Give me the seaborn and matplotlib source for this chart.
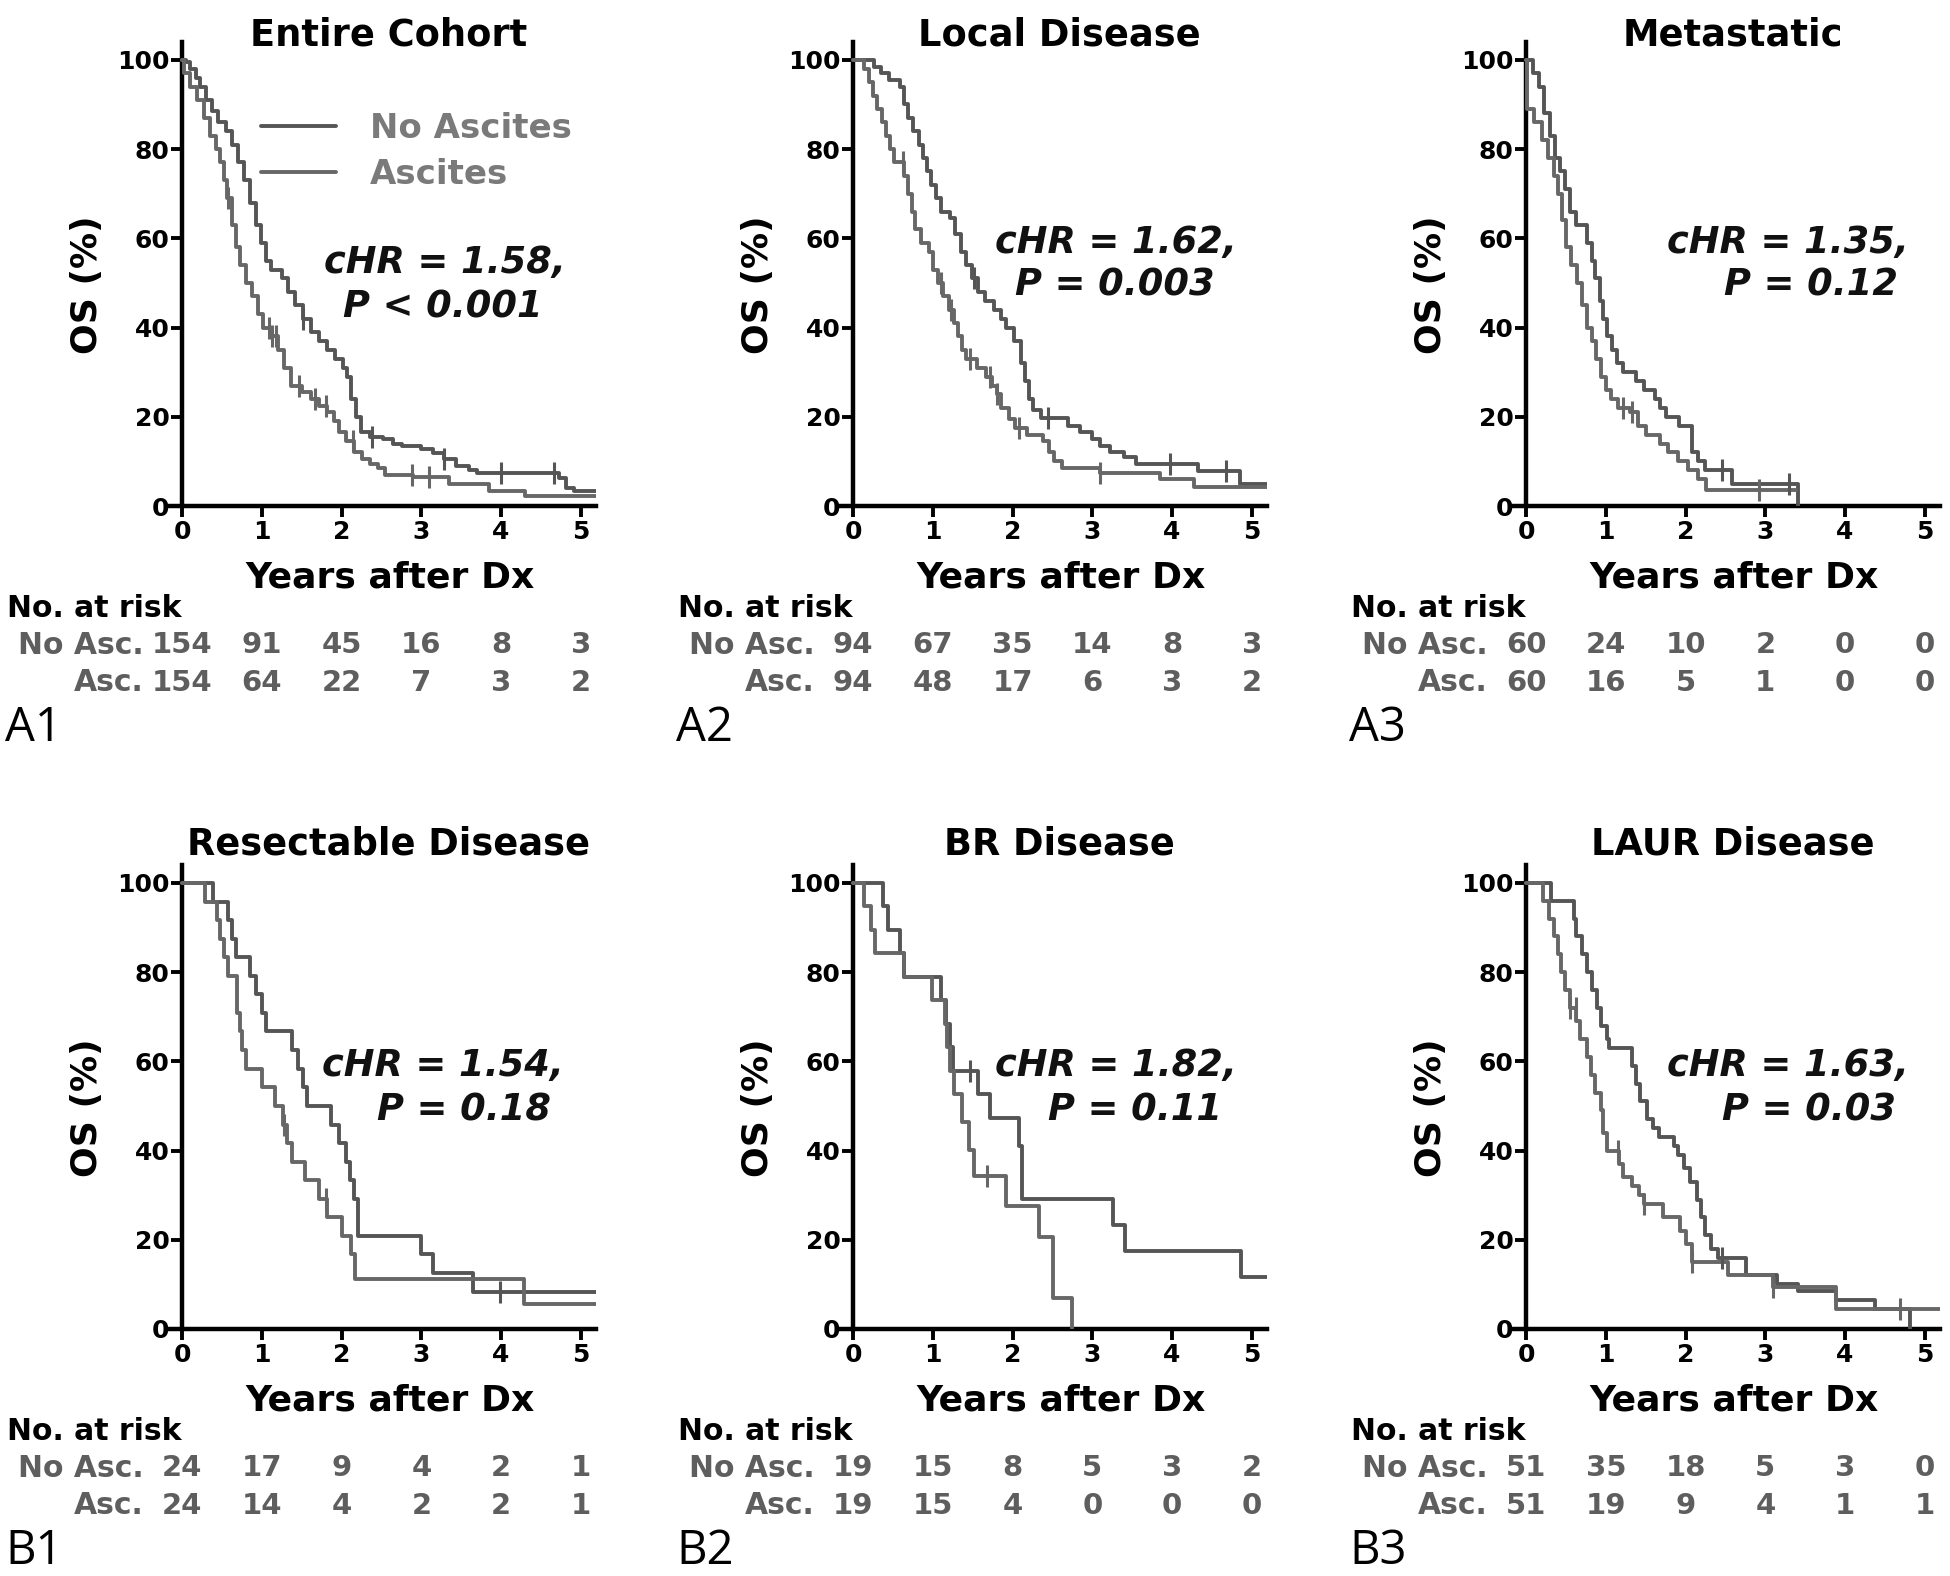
import numpy as np
import pandas as pd
import matplotlib
matplotlib.use("Agg")
import matplotlib.pyplot as plt
import matplotlib.transforms as mtransforms
from matplotlib.lines import Line2D
import seaborn as sns

# ---------------- data ----------------
titles = ["Entire Cohort", "Local Disease", "Metastatic",
          "Resectable Disease", "BR Disease", "LAUR Disease"]
panel_labels = ["A1", "A2", "A3", "B1", "B2", "B3"]
hr_texts = ["cHR = 1.58,", "cHR = 1.62,", "cHR = 1.35,",
            "cHR = 1.54,", "cHR = 1.82,", "cHR = 1.63,"]
p_texts = ["P < 0.001", "P = 0.003", "P = 0.12",
           "P = 0.18", "P = 0.11", "P = 0.03"]
group_names = ["No Ascites", "Ascites"]
risk_row_labels = ["No Asc.", "Asc."]
risk_times = [0, 1, 2, 3, 4, 5]

# Kaplan-Meier curves: step start times (years) and survival (%)
a1_no_t = [0, 0.05, 0.10, 0.17, 0.22, 0.30, 0.37, 0.45, 0.55, 0.62, 0.70, 0.78, 0.85, 0.92, 0.99,
           1.05, 1.12, 1.25, 1.33, 1.42, 1.52, 1.62, 1.72, 1.82, 1.92, 2.02, 2.07, 2.12, 2.18,
           2.24, 2.35, 2.52, 2.65, 2.76, 3.00, 3.15, 3.28, 3.43, 3.60, 3.70, 4.73, 4.82, 4.92]
a1_no_s = [100, 99.5, 98, 96, 94, 91, 88.5, 86, 84, 81, 77, 73, 68, 63, 59,
           55, 53, 51, 48, 45, 42, 39, 37, 35, 33, 31, 29, 24, 20,
           16.5, 15.5, 15, 14, 13.4, 12.8, 11.8, 10.5, 9, 8, 7.5, 6.2, 4, 3.3]
a1_no_end = 5.19
a1_no_cens = [1.52, 2.38, 3.29, 4.0, 4.66]
a1_as_t = [0, 0.02, 0.10, 0.18, 0.27, 0.35, 0.42, 0.47, 0.52, 0.56, 0.62, 0.67, 0.72, 0.80, 0.88,
           0.95, 1.02, 1.12, 1.20, 1.28, 1.37, 1.50, 1.62, 1.72, 1.82, 1.90, 1.97, 2.05, 2.15,
           2.25, 2.35, 2.45, 2.55, 2.90, 3.35, 3.85, 4.30]
a1_as_s = [100, 97, 94, 91, 87, 83, 80, 77, 73, 69, 63, 58, 54, 50, 47,
           43, 40, 38, 35, 31, 27, 25.5, 24, 22.5, 21, 19, 16.5, 14.5, 12,
           10.5, 9.5, 8.5, 7, 6.5, 5, 3.4, 2.3]
a1_as_end = 5.19
a1_as_cens = [0.58, 1.09, 1.13, 1.18, 1.47, 1.66, 1.80, 2.14, 2.88, 3.10]

a2_no_t = [0, 0.26, 0.35, 0.45, 0.59, 0.64, 0.69, 0.75, 0.82, 0.87, 0.92, 0.98, 1.04, 1.10, 1.22,
           1.28, 1.35, 1.42, 1.49, 1.56, 1.65, 1.77, 1.85, 1.92, 2.02, 2.10, 2.15, 2.20, 2.25,
           2.36, 2.69, 2.85, 3.00, 3.10, 3.22, 3.40, 3.55, 4.33, 4.85]
a2_no_s = [100, 98.5, 97, 95.5, 94, 90, 87, 84, 81, 78, 75, 72, 69, 66, 64.5,
           61, 57, 54, 51, 48, 46, 44, 42, 40, 37, 32, 28, 24, 21.5,
           19.8, 18, 16.5, 15, 13.5, 12, 11, 9.4, 7.8, 5]
a2_no_end = 5.19
a2_no_cens = [1.51, 2.44, 3.97, 4.67]
a2_as_t = [0, 0.13, 0.20, 0.25, 0.30, 0.36, 0.41, 0.46, 0.51, 0.64, 0.69, 0.74, 0.78, 0.85, 0.95,
           1.00, 1.06, 1.13, 1.20, 1.26, 1.31, 1.36, 1.42, 1.55, 1.66, 1.74, 1.80, 1.86, 1.95,
           2.03, 2.18, 2.38, 2.45, 2.52, 2.62, 3.10, 3.85, 4.28]
a2_as_s = [100, 98, 95, 92, 89, 86, 83, 80, 77, 74, 70, 66, 62, 59, 57,
           53, 50, 47, 44, 41, 38, 35, 33, 31, 29, 27, 25, 22, 19.5,
           17.5, 16, 14.5, 12, 10, 8.5, 7.5, 6, 4.2]
a2_as_end = 5.19
a2_as_cens = [0.62, 1.10, 1.23, 1.46, 1.72, 1.80, 2.08, 3.10]

a3_no_t = [0, 0.08, 0.16, 0.23, 0.30, 0.36, 0.42, 0.49, 0.55, 0.63, 0.76, 0.82, 0.86, 0.92, 0.96,
           1.02, 1.08, 1.14, 1.22, 1.38, 1.48, 1.61, 1.68, 1.75, 1.92, 2.08, 2.16, 2.24, 2.58, 3.41]
a3_no_s = [100, 97, 94, 88, 83, 78, 75, 71, 66, 63, 59, 55, 51, 46, 42,
           38, 35, 32, 30, 28, 26, 24, 22, 20, 18, 12, 10, 8, 5, 0]
a3_no_end = 3.41
a3_no_cens = [2.45, 3.30]
a3_as_t = [0, 0.01, 0.10, 0.20, 0.28, 0.35, 0.40, 0.45, 0.50, 0.56, 0.64, 0.70, 0.76, 0.82, 0.88,
           0.94, 1.00, 1.06, 1.15, 1.30, 1.40, 1.50, 1.68, 1.78, 1.90, 2.03, 2.15, 2.26]
a3_as_s = [100, 89, 86, 82, 78, 74, 70, 64, 58, 54, 50, 45, 40, 37, 33,
           29, 26, 24, 22, 21, 18, 16, 14, 12, 10, 8, 6, 3.5]
a3_as_end = 3.38
a3_as_cens = [1.22, 1.33, 2.92]

b1_no_t = [0, 0.39, 0.57, 0.62, 0.67, 0.85, 0.93, 1.00, 1.05, 1.38, 1.45, 1.51, 1.56, 1.87, 1.97,
           2.05, 2.10, 2.15, 2.21, 2.99, 3.14, 3.65]
b1_no_s = [100, 95.8, 91.7, 87.5, 83.3, 79.2, 75, 70.8, 66.7, 62.5, 58.3, 54.2, 50, 45.8, 41.7,
           37.5, 33.3, 29.2, 20.8, 16.7, 12.5, 8.3]
b1_no_end = 5.19
b1_no_cens = [3.98]
b1_as_t = [0, 0.29, 0.44, 0.47, 0.52, 0.57, 0.69, 0.72, 0.75, 0.80, 1.00, 1.16, 1.26, 1.31, 1.38,
           1.54, 1.72, 1.82, 2.00, 2.12, 2.17, 4.29]
b1_as_s = [100, 95.8, 91.7, 87.5, 83.3, 79.2, 70.8, 66.7, 62.5, 58.3, 54.2, 50, 45.8, 41.7, 37.5,
           33.3, 29.2, 25, 20.8, 16.7, 11.1, 5.6]
b1_as_end = 5.19
b1_as_cens = [1.28, 1.80]

b2_no_t = [0, 0.38, 0.44, 0.59, 0.64, 1.10, 1.16, 1.22, 1.25, 1.56, 1.72, 2.08, 2.12, 3.26, 3.41, 4.87]
b2_no_s = [100, 94.7, 89.5, 84.2, 78.9, 73.7, 68.4, 63.2, 57.9, 52.6, 47.4, 41.0, 29.2, 23.4, 17.5, 11.7]
b2_no_end = 5.19
b2_no_cens = [1.47]
b2_as_t = [0, 0.13, 0.23, 0.27, 0.64, 0.99, 1.15, 1.18, 1.22, 1.26, 1.36, 1.45, 1.52, 1.92, 2.33, 2.51, 2.74]
b2_as_s = [100, 94.7, 89.5, 84.2, 78.9, 73.7, 68.4, 63.2, 57.9, 52.6, 46.4, 40.2, 34.4, 27.5, 20.6, 6.9, 0]
b2_as_end = 2.74
b2_as_cens = [1.68]

b3_no_t = [0, 0.31, 0.60, 0.63, 0.70, 0.76, 0.83, 0.89, 0.94, 1.02, 1.04, 1.33, 1.38, 1.43, 1.51,
           1.59, 1.67, 1.85, 1.90, 1.98, 2.06, 2.14, 2.19, 2.24, 2.32, 2.40, 2.76, 3.15, 3.41,
           3.88, 4.38, 4.82]
b3_no_s = [100, 96, 92, 88, 84, 80, 76, 72, 68, 65, 63, 59, 55, 51, 47,
           45, 43, 41, 39, 36, 33, 29, 25, 21, 18, 16, 12, 10, 8.5,
           6.4, 4.4, 0]
b3_no_end = 4.82
b3_no_cens = [2.45]
b3_as_t = [0, 0.21, 0.29, 0.35, 0.40, 0.44, 0.49, 0.55, 0.63, 0.68, 0.76, 0.81, 0.86, 0.94, 0.97,
           1.02, 1.17, 1.22, 1.33, 1.41, 1.48, 1.72, 1.93, 2.00, 2.08, 2.53, 3.10, 3.88]
b3_as_s = [100, 96, 92, 88, 84, 80, 76, 72, 69, 65, 61, 57, 53, 49, 44,
           40, 37, 34, 32, 30, 28, 25, 22, 19, 15, 12, 9.5, 4.4]
b3_as_end = 5.19
b3_as_cens = [0.55, 0.62, 1.15, 1.48, 2.08, 3.10, 4.69]

a1_risk_no = [154, 91, 45, 16, 8, 3]
a1_risk_as = [154, 64, 22, 7, 3, 2]
a2_risk_no = [94, 67, 35, 14, 8, 3]
a2_risk_as = [94, 48, 17, 6, 3, 2]
a3_risk_no = [60, 24, 10, 2, 0, 0]
a3_risk_as = [60, 16, 5, 1, 0, 0]
b1_risk_no = [24, 17, 9, 4, 2, 1]
b1_risk_as = [24, 14, 4, 2, 2, 1]
b2_risk_no = [19, 15, 8, 5, 3, 2]
b2_risk_as = [19, 15, 4, 0, 0, 0]
b3_risk_no = [51, 35, 18, 5, 3, 0]
b3_risk_as = [51, 19, 9, 4, 1, 1]

curves = [
    ((a1_no_t, a1_no_s, a1_no_end, a1_no_cens), (a1_as_t, a1_as_s, a1_as_end, a1_as_cens)),
    ((a2_no_t, a2_no_s, a2_no_end, a2_no_cens), (a2_as_t, a2_as_s, a2_as_end, a2_as_cens)),
    ((a3_no_t, a3_no_s, a3_no_end, a3_no_cens), (a3_as_t, a3_as_s, a3_as_end, a3_as_cens)),
    ((b1_no_t, b1_no_s, b1_no_end, b1_no_cens), (b1_as_t, b1_as_s, b1_as_end, b1_as_cens)),
    ((b2_no_t, b2_no_s, b2_no_end, b2_no_cens), (b2_as_t, b2_as_s, b2_as_end, b2_as_cens)),
    ((b3_no_t, b3_no_s, b3_no_end, b3_no_cens), (b3_as_t, b3_as_s, b3_as_end, b3_as_cens)),
]
risks = [(a1_risk_no, a1_risk_as), (a2_risk_no, a2_risk_as), (a3_risk_no, a3_risk_as),
         (b1_risk_no, b1_risk_as), (b2_risk_no, b2_risk_as), (b3_risk_no, b3_risk_as)]

# ---------------- style / layout ----------------
sns.set_theme(style="white")
plt.rcParams["font.family"] = ["DejaVu Sans"]

W, H = 1950, 1576
fig = plt.figure(figsize=(W / 100, H / 100), dpi=100)
fig.patch.set_facecolor("white")

col_left_px = [167, 838, 1511]
ax_w_px = 429
row_bottom_px = [506, 1329]
ax_h_px = 464
title_y = [1.015, 1.045]
# annotation placement (data x centre, y) per panel for the two text lines
hr_pos = [(3.29, 54.5), (3.29, 59), (3.28, 59), (3.27, 59), (3.29, 59), (3.28, 59)]
p_pos = [(3.27, 44.5), (3.28, 49.5), (3.57, 49.5), (3.54, 49), (3.54, 49), (3.55, 49)]

c_no = "#555555"
c_as = "#676767"
palette = {"No Ascites": c_no, "Ascites": c_as}
risk_color = "#5e5e5e"

for i in range(6):
    r, c = divmod(i, 3)
    left = col_left_px[c] / W
    bottom = 1 - row_bottom_px[r] / H
    ax = fig.add_axes([left, bottom, ax_w_px / W, ax_h_px / H])
    ax.set_facecolor("white")

    rows = []
    for gname, (t, s, end, cens) in zip(group_names, curves[i]):
        tt = list(t) + ([end] if end > t[-1] else [])
        ss = list(s) + ([s[-1]] if end > t[-1] else [])
        rows.append(pd.DataFrame({"t": tt, "s": ss, "g": gname}))
    df = pd.concat(rows, ignore_index=True)
    sns.lineplot(data=df, x="t", y="s", hue="g", palette=palette, estimator=None,
                 sort=False, drawstyle="steps-post", linewidth=2.8, legend=False, ax=ax,
                 zorder=3)
    # censor marks on the curves
    for gname, (t, s, end, cens) in zip(group_names, curves[i]):
        ta = np.asarray(t)
        sa = np.asarray(s)
        idx = np.searchsorted(ta, np.asarray(cens), side="right") - 1
        sns.scatterplot(x=list(cens), y=list(sa[idx]), marker="|", s=230, linewidth=2.2,
                        color=palette[gname], ax=ax, legend=False, zorder=4)

    ax.set_xlim(-0.19, 5.19)
    ax.set_ylim(0, 104)
    ax.spines["left"].set_position(("data", 0))
    for sp in ["top", "right"]:
        ax.spines[sp].set_visible(False)
    for sp in ["left", "bottom"]:
        ax.spines[sp].set_linewidth(3.2)
        ax.spines[sp].set_color("black")
    ax.set_xticks(risk_times)
    ax.set_yticks([0, 20, 40, 60, 80, 100])
    ax.tick_params(axis="both", direction="out", length=8, width=2.8, color="black",
                   labelsize=18, bottom=True, left=True)
    ax.tick_params(axis="x", pad=2)
    ax.tick_params(axis="y", pad=1)
    for lab in ax.get_xticklabels() + ax.get_yticklabels():
        lab.set_fontweight("bold")
        lab.set_color("black")
    ax.set_xlabel("")
    ax.set_ylabel("")
    ax.grid(False)

    ax.text(0.517, title_y[r], titles[i], transform=ax.transAxes, ha="center", va="center",
            fontsize=26.5, fontweight="bold", color="black")
    ax.text(-0.186, 0.476, "OS (%)", transform=ax.transAxes, rotation=90, ha="center",
            va="center", fontsize=26, fontweight="bold", color="black")
    ax.text(0.52, -0.155, "Years after Dx", transform=ax.transAxes, ha="center",
            va="center", fontsize=26, fontweight="bold", color="black")

    ax.text(hr_pos[i][0], hr_pos[i][1], hr_texts[i], ha="center", va="center", fontsize=26.5,
            fontweight="bold", fontstyle="italic", color="#111111")
    ax.text(p_pos[i][0], p_pos[i][1], p_texts[i], ha="center", va="center", fontsize=26.5,
            fontweight="bold", fontstyle="italic", color="#111111")

    blend = mtransforms.blended_transform_factory(ax.transData, ax.transAxes)
    ax.text(-2.2, -0.22, "No. at risk", transform=blend, ha="left", va="center",
            fontsize=21.5, fontweight="bold", color="black", clip_on=False)
    for lab, vals, yy in zip(risk_row_labels, risks[i], [-0.30, -0.381]):
        ax.text(-0.48, yy, lab, transform=blend, ha="right", va="center", fontsize=21.5,
                fontweight="bold", color=risk_color, clip_on=False)
        for xt, v in zip(risk_times, vals):
            ax.text(xt, yy, str(v), transform=blend, ha="center", va="center", fontsize=21,
                    fontweight="bold", color=risk_color, clip_on=False)
    ax.text(-2.22, -0.478, panel_labels[i], transform=blend, ha="left", va="center",
            fontsize=34, family=["Open Sans", "DejaVu Sans"], fontweight="normal",
            color="black", clip_on=False)

    if i == 0:
        handles = [Line2D([], [], color=palette[g], linewidth=2.8) for g in group_names]
        leg = ax.legend(handles, group_names, loc="upper left", bbox_to_anchor=(0.219, 0.85),
                        frameon=False, handlelength=2.2, handletextpad=1.0,
                        labelspacing=0.38, borderpad=0, borderaxespad=0,
                        prop={"weight": "bold", "size": 24.5})
        for txt in leg.get_texts():
            txt.set_color("#7a7a7a")

fig.savefig("out.png", dpi=100, facecolor="white")
